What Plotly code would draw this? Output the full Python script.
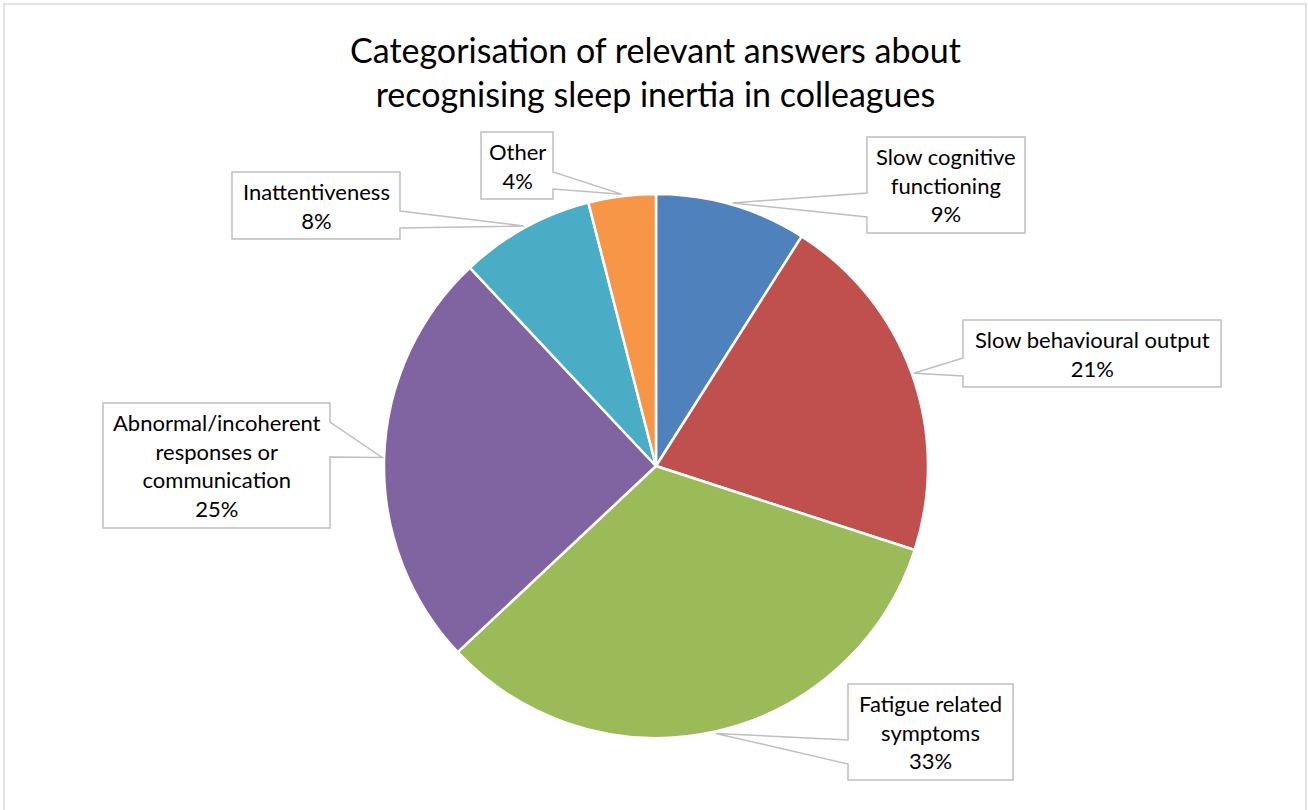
import math
import textwrap
import plotly.graph_objects as go

# --- data -------------------------------------------------------------
categories = [
    "Slow cognitive functioning",
    "Slow behavioural output",
    "Fatigue related symptoms",
    "Abnormal/incoherent responses or communication",
    "Inattentiveness",
    "Other",
]
shares = [9, 21, 33, 25, 8, 4]
colors = ["#4F81BD", "#C0504D", "#9BBB59", "#8064A2", "#4BACC6", "#F79646"]
title_lines = [
    "Categorisation of relevant answers about",
    "recognising sleep inertia in colleagues",
]

# --- canvas geometry (pixels, y downwards) -----------------------------
W, H = 1308, 810
CX, CY, R = 656, 466, 272

# callout boxes: (x0, y0, x1, y1), side of the pointer, pointer base, wrap width
callouts = [
    dict(box=(867, 137, 1025, 233), side="left", base=(193, 217), wrap=14),
    dict(box=(963, 320, 1221, 387), side="left", base=(358, 376), wrap=25),
    dict(box=(848, 684, 1013, 780), side="left", base=(740, 764), wrap=15),
    dict(box=(103, 403, 330, 528), side="right", base=(422, 457), wrap=19),
    dict(box=(232, 172, 400, 239), side="right", base=(211, 228), wrap=16),
    dict(box=(481, 132, 553, 199), side="right", base=(172, 189), wrap=8),
]

FONT = "Lato, Carlito, Calibri, sans-serif"
EDGE = "#BFBFBF"


def px(x, y):
    """pixel position -> paper coordinates"""
    return x / W, 1 - y / H


fig = go.Figure()

fig.add_trace(
    go.Pie(
        labels=categories,
        values=shares,
        sort=False,
        direction="clockwise",
        rotation=0,
        marker=dict(colors=colors, line=dict(color="white", width=2.5)),
        textinfo="none",
        hoverinfo="label+percent",
        showlegend=False,
        domain=dict(
            x=[(CX - R) / W, (CX + R) / W],
            y=[1 - (CY + R) / H, 1 - (CY - R) / H],
        ),
    )
)

shapes = []
annotations = []

# outer chart frame
shapes.append(
    dict(
        type="rect", xref="paper", yref="paper",
        x0=4 / W, x1=1306 / W, y0=-0.01, y1=1 - 4 / H,
        line=dict(color="#D9D9D9", width=1.5), fillcolor="rgba(0,0,0,0)",
        layer="below",
    )
)

total = sum(shares)
cum = 0
for name, val, c in zip(categories, shares, callouts):
    mid = (cum + val / 2) / total
    cum += val
    theta = 2 * math.pi * mid
    tx = CX + (R + 2) * math.sin(theta)
    ty = CY - (R + 2) * math.cos(theta)

    x0, y0, x1, y1 = c["box"]
    b1, b2 = c["base"]
    if c["side"] == "left":
        pts = [(x0, y0), (x1, y0), (x1, y1), (x0, y1), (x0, b2), (tx, ty), (x0, b1)]
    else:
        pts = [(x0, y0), (x1, y0), (x1, b1), (tx, ty), (x1, b2), (x1, y1), (x0, y1)]
    path = "M " + " L ".join("{:.5f},{:.5f}".format(*px(x, y)) for x, y in pts) + " Z"
    shapes.append(
        dict(
            type="path", xref="paper", yref="paper", path=path,
            fillcolor="white", line=dict(color=EDGE, width=1.5), layer="above",
        )
    )

    lines = textwrap.wrap(name, width=c["wrap"]) + [f"{val}%"]
    ax, ay = px((x0 + x1) / 2, (y0 + y1) / 2)
    annotations.append(
        dict(
            x=ax, y=ay, xref="paper", yref="paper",
            xanchor="center", yanchor="middle",
            text="<br>".join(lines), showarrow=False, align="center",
            font=dict(family=FONT, size=22, color="#000000"),
        )
    )

tx_, ty_ = px(655, 71)
annotations.append(
    dict(
        x=tx_, y=ty_, xref="paper", yref="paper",
        xanchor="center", yanchor="middle",
        text="<br>".join(title_lines), showarrow=False, align="center",
        font=dict(family=FONT, size=34, color="#000000"),
    )
)

fig.update_layout(
    width=W,
    height=H,
    margin=dict(l=0, r=0, t=0, b=0),
    paper_bgcolor="white",
    plot_bgcolor="white",
    shapes=shapes,
    annotations=annotations,
)

fig.write_html("out.html")
